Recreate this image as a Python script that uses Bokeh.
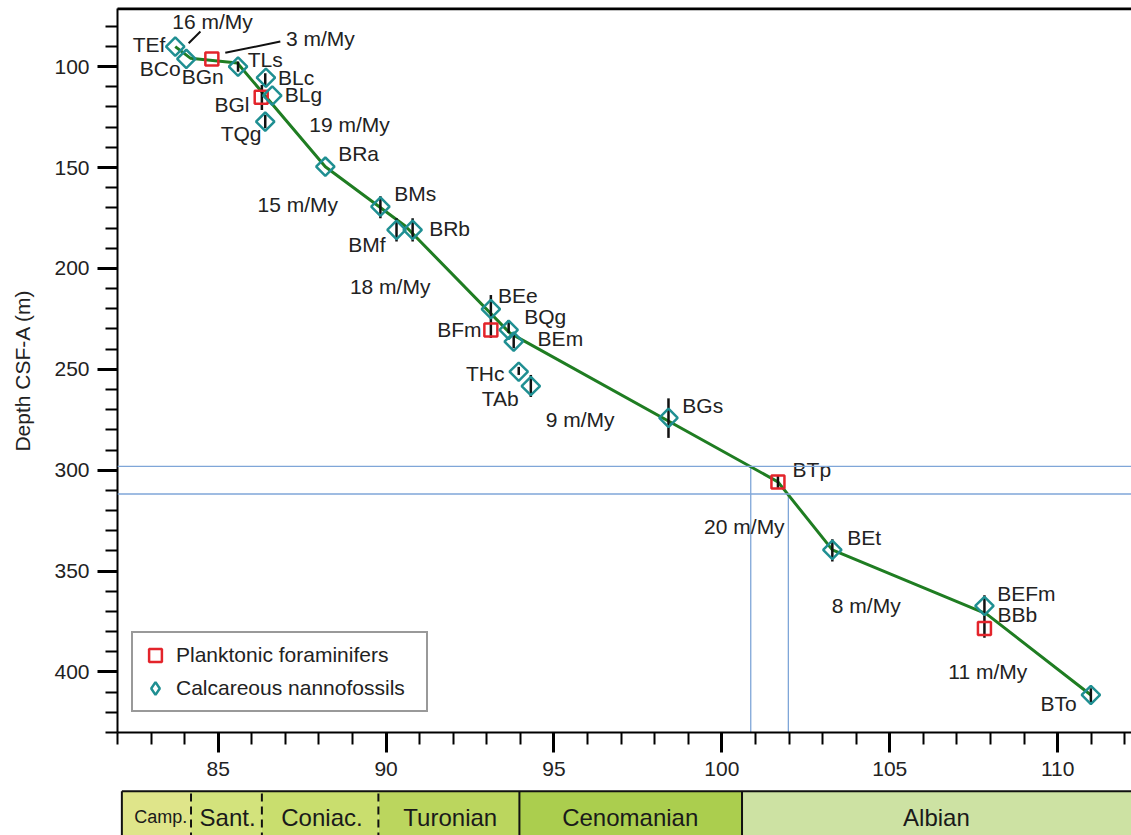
import numpy as np
from bokeh.plotting import figure
from bokeh.models import (Range1d, SingleIntervalTicker, FixedTicker, Span, Legend, LegendItem,
                          LinearAxis)
from bokeh.layouts import column
from bokeh.embed import file_html
from bokeh.resources import INLINE
from bokeh.core.properties import value

FONT = "Liberation Sans"

# ---------------- data ----------------
nanno_names = ["TEf", "BCo", "TLs", "BLc", "BLg", "TQg", "BRa", "BMs", "BMf", "BRb",
               "BEe", "BQg", "BEm", "THc", "TAb", "BGs", "BEt", "BEFm", "BTo"]
nanno_age = [83.72, 84.05, 85.59, 86.42, 86.61, 86.40, 88.19, 89.83, 90.31, 90.79,
             93.12, 93.65, 93.80, 93.95, 94.31, 98.41, 103.29, 107.82, 110.99]
nanno_depth = [90.1, 96.2, 100.0, 105.5, 114.4, 127.3, 149.6, 169.4, 180.9, 180.9,
               220.2, 230.5, 236.3, 251.2, 258.3, 274.1, 339.5, 367.3, 411.4]

foram_names = ["BGn", "BGl", "BFm", "BTp", "BBb"]
foram_age = [84.81, 86.28, 93.12, 101.67, 107.82]
foram_depth = [96.2, 115.2, 230.5, 305.8, 378.4]

err_age = [85.59, 86.40, 86.30, 86.40, 89.83, 90.31, 90.79, 93.12, 93.12, 93.65,
           93.80, 93.95, 94.31, 98.41, 101.67, 103.29, 107.82, 110.99]
err_top = [97.5, 103.3, 109.1, 124.0, 164.2, 175.1, 175.1, 213.2, 226.6, 225.6,
           232.1, 248.8, 252.8, 264.4, 302.8, 334.2, 362.0, 408.1]
err_bot = [102.5, 109.1, 121.5, 130.5, 175.1, 186.7, 186.7, 227.2, 234.5, 232.0,
           239.6, 252.8, 263.7, 284.0, 308.8, 345.2, 383.0, 415.0]

model_age = [83.72, 84.17, 85.57, 88.19, 90.57, 93.69, 101.67, 103.29, 107.88, 110.99]
model_depth = [90.1, 95.8, 98.2, 149.6, 179.0, 232.1, 305.8, 339.5, 371.2, 411.4]

ref_depth = [298.1, 311.8]
ref_age = [100.86, 101.98]

lab_text = ["16 m/My", "3 m/My", "TEf", "BCo", "BGn", "TLs", "BLc", "BLg", "BGl",
            "19 m/My", "TQg", "BRa", "BMs", "15 m/My", "BRb", "BMf", "18 m/My", "BEe",
            "BFm", "BQg", "BEm", "THc", "TAb", "9 m/My", "BGs", "BTp", "20 m/My", "BEt",
            "8 m/My", "BEFm", "BBb", "11 m/My", "BTo"]
lab_age = [84.83, 88.04, 82.94, 83.27, 84.54, 86.40, 87.32, 87.54, 85.41,
           88.91, 85.68, 89.18, 90.87, 87.37, 91.89, 89.43, 90.12, 93.92,
           92.18, 94.74, 95.19, 92.95, 93.40, 95.78, 99.43, 102.68, 100.67, 104.24,
           104.30, 109.07, 108.80, 107.92, 110.03]
lab_depth = [77.7, 85.9, 89.2, 100.8, 105.0, 96.7, 105.3, 114.0, 119.0,
             128.9, 133.0, 143.3, 162.7, 168.5, 180.1, 188.4, 209.0, 213.6,
             230.5, 223.9, 234.6, 252.0, 264.3, 275.1, 267.9, 299.9, 328.0, 333.4,
             367.0, 361.3, 371.7, 399.7, 415.5]

leader_x0 = [84.47, 86.85]
leader_y0 = [82.6, 87.6]
leader_x1 = [84.12, 85.21]
leader_y1 = [88.4, 93.1]

stage_names = ["Camp.", "Sant.", "Coniac.", "Turonian", "Cenomanian", "Albian"]
stage_start = [82.13, 84.19, 86.30, 89.77, 93.97, 100.60]
stage_end = [84.19, 86.30, 89.77, 93.97, 100.60, 113.0]
stage_colors = ["#dfe58a", "#d3e37c", "#c9de6e", "#bbd65e", "#abce4e", "#cde2a3"]
stage_label_x = [83.29, 85.28, 88.09, 91.91, 97.27, 106.39]
stage_label_size = ["18px", "24px", "24px", "24px", "24px", "24px"]

AGE_MIN, AGE_MAX = 82.0, 112.2
DEPTH_TOP, DEPTH_BOTTOM = 71.2, 430.0
FRAME_TOP_DEPTH = 71.6

TEAL = "#1f8f92"
RED = "#e3242b"

# ---------------- main plot ----------------
p = figure(width=1131, height=788, x_range=Range1d(AGE_MIN, AGE_MAX),
           y_range=Range1d(DEPTH_BOTTOM, DEPTH_TOP), title=None,
           output_backend="svg", toolbar_location=None,
           min_border_left=117, min_border_right=0, min_border_top=8, min_border_bottom=56)
p.xgrid.visible = False
p.ygrid.visible = False
p.outline_line_color = None
p.background_fill_color = "white"
p.border_fill_color = "white"

p.xaxis.ticker = SingleIntervalTicker(interval=5, num_minor_ticks=5)
p.yaxis.ticker = SingleIntervalTicker(interval=50, num_minor_ticks=5)
for ax in (p.xaxis[0], p.yaxis[0]):
    ax.axis_line_width = 2
    ax.axis_line_color = "black"
    ax.major_tick_line_width = 3
    ax.minor_tick_line_width = 2
    ax.major_tick_line_color = "black"
    ax.minor_tick_line_color = "black"
    ax.major_tick_out = 20
    ax.major_tick_in = 0
    ax.minor_tick_out = 12
    ax.minor_tick_in = 0
    ax.major_label_text_font = FONT
    ax.major_label_text_font_size = "21px"
    ax.major_label_text_color = "#222222"
p.xaxis.major_label_standoff = 9
p.yaxis.major_label_standoff = 8
p.yaxis.axis_label = "Depth CSF-A (m)"
p.yaxis.axis_label_standoff = 17
p.yaxis.axis_label_text_font = FONT
p.yaxis.axis_label_text_font_size = "21px"
p.yaxis.axis_label_text_font_style = "normal"
p.yaxis.axis_label_text_color = "#222222"

# top frame rule: an unlabeled axis (minor ticks only, zero length) plus a line
top_ax = LinearAxis(ticker=FixedTicker(ticks=[], minor_ticks=[85, 90, 95, 100, 105, 110]),
                    axis_line_width=2, axis_line_color="black",
                    major_tick_out=0, major_tick_in=0, minor_tick_out=0, minor_tick_in=0,
                    major_label_standoff=0)
p.add_layout(top_ax, "above")
p.line([AGE_MIN, AGE_MAX], [FRAME_TOP_DEPTH, FRAME_TOP_DEPTH], line_color="black", line_width=2)

# reference lines
for d in ref_depth:
    p.add_layout(Span(location=d, dimension="width", line_color="#7fa6d8", line_width=1.3))
p.segment(x0=ref_age, y0=ref_depth, x1=ref_age, y1=[DEPTH_BOTTOM] * 2,
          line_color="#7fa6d8", line_width=1.3)

# age model line
p.line(model_age, model_depth, line_color="#1f7d22", line_width=3)

# error bars
p.segment(x0=err_age, y0=err_top, x1=err_age, y1=err_bot, line_color="#111111", line_width=2.5)

# markers
r_f = p.scatter(foram_age, foram_depth, marker="square", size=13,
                line_color=RED, line_width=2.5, fill_color=None)
r_n = p.scatter(nanno_age, nanno_depth, marker="square", angle=np.pi / 4, size=13,
                line_color=TEAL, line_width=2.5, fill_color=None)
# zero-size diamond proxy on the same data: invisible on the plot, gives the legend a diamond
r_n_leg = p.scatter(nanno_age, nanno_depth, marker="diamond", size=0,
                    line_color=TEAL, line_width=2.5, fill_color=None)

# leaders and labels
p.segment(x0=leader_x0, y0=leader_y0, x1=leader_x1, y1=leader_y1,
          line_color="#111111", line_width=2)
p.text(x=lab_age, y=lab_depth, text=lab_text, text_font=value(FONT),
       text_font_size="21px", text_align="center", text_baseline="middle",
       text_color="#222222")

legend = Legend(items=[LegendItem(label="Planktonic foraminifers", renderers=[r_f]),
                       LegendItem(label="Calcareous nannofossils", renderers=[r_n_leg])],
                location=(14, 20), padding=6, spacing=1, margin=0,
                glyph_width=32, glyph_height=32, label_height=32, label_standoff=5,
                label_width=244,
                label_text_font=FONT, label_text_font_size="21px",
                label_text_color="#222222",
                border_line_color="#333333", border_line_width=2,
                background_fill_color="white", background_fill_alpha=1.0)
p.add_layout(legend)

# ---------------- stage bar ----------------
p2 = figure(width=1131, height=47, x_range=p.x_range, y_range=Range1d(0, 47), title=None,
            output_backend="svg", toolbar_location=None,
            x_axis_location=None, y_axis_location=None,
            min_border_left=117, min_border_right=0, min_border_top=0, min_border_bottom=0)
p2.xgrid.visible = False
p2.ygrid.visible = False
p2.outline_line_color = None
p2.quad(left=stage_start, right=stage_end, bottom=-5, top=44.3,
        fill_color=stage_colors, line_color=None)
p2.segment(x0=[stage_start[0]], y0=[44.3], x1=[stage_end[-1]], y1=[44.3],
           line_color="#111111", line_width=2)
p2.segment(x0=[stage_start[0]], y0=[-5], x1=[stage_start[0]], y1=[44.3],
           line_color="#111111", line_width=2)
p2.segment(x0=stage_end[:3], y0=[-5] * 3, x1=stage_end[:3], y1=[44.3] * 3,
           line_color="#111111", line_width=2, line_dash="8 5")
p2.segment(x0=stage_end[3:5], y0=[-5] * 2, x1=stage_end[3:5], y1=[44.3] * 2,
           line_color="#111111", line_width=2)
p2.text(x=stage_label_x, y=[18.3] * 6, text=stage_names, text_font=value(FONT),
        text_font_size=stage_label_size, text_align="center", text_baseline="middle",
        text_color="#1a1a1a")

layout = column(p, p2, spacing=0)
open("out.html", "w").write(file_html(layout, INLINE))
